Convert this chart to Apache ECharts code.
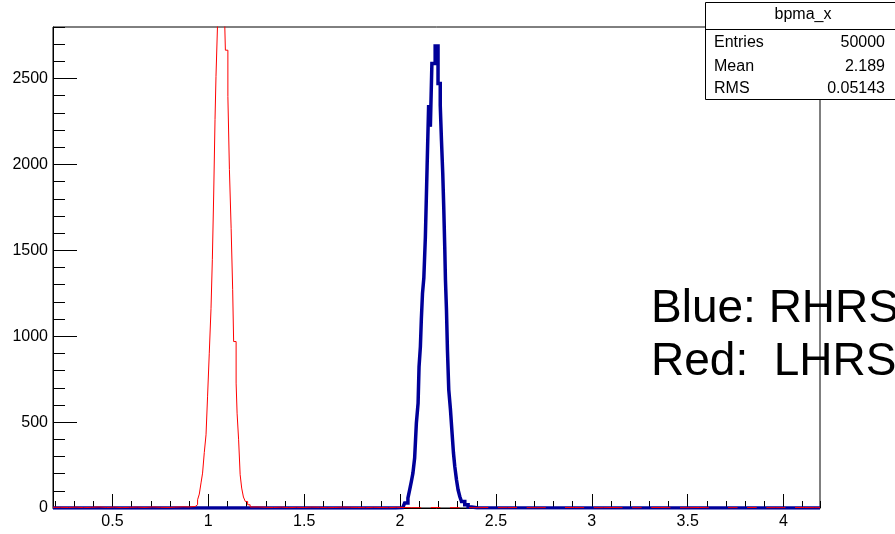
<!DOCTYPE html>
<html>
<head>
<meta charset="utf-8">
<script src="https://cdn.jsdelivr.net/npm/echarts@6/dist/echarts.min.js"></script>
<style>html,body{margin:0;padding:0;background:#fff}#c{width:895px;height:534px}</style>
</head>
<body>
<div id="c"></div>
<script>
// ---- axis ranges ----
const xMin = 0.19, xMax = 4.19;
const yMin = 0, yMax = 2800;

// ---- blue histogram (RHRS, bpma_x): bin low edges (last = upper edge) and counts ----
const blueEdges = [0.19, 1.977, 2.014, 2.024, 2.041, 2.050, 2.059, 2.067, 2.076, 2.085, 2.094, 2.099,
  2.106, 2.111, 2.117, 2.124, 2.132, 2.141, 2.149, 2.158, 2.166, 2.183, 2.198, 2.2095, 2.216, 2.2226,
  2.2278, 2.233, 2.2367, 2.242, 2.2471, 2.254, 2.2628, 2.2712, 2.2785, 2.2853, 2.2942, 2.3025, 2.3114,
  2.3203, 2.3375, 2.3548, 2.374, 2.40, 4.19];
const blueCounts = [0, 2, 9, 29, 58, 106, 155, 203, 291, 494, 610,
  823, 940, 1100, 1250, 1340, 1579, 1986, 2345, 2219, 2587, 2690, 2471, 2345, 2138,
  1948, 1750, 1520, 1327, 1153, 920, 688, 572, 436, 320, 242, 165, 106,
  67, 38, 19, 6, 2, 0];

// ---- red histogram (LHRS): bin low edges (last = upper edge) and counts ----
const redEdges = [
  0.19, 0.23, 0.27, 0.31, 0.35, 0.39, 0.43, 0.47, 0.51, 0.55, 0.59, 0.63, 0.67, 0.71, 0.75, 0.79, 0.83, 0.87, 0.90,
  0.932, 0.944, 0.953, 0.962, 0.970, 0.979, 0.988, 0.996, 1.005, 1.014, 1.021, 1.028, 1.035, 1.040, 1.049, 1.056,
  1.063, 1.069, 1.076, 1.082, 1.089, 1.102, 1.110, 1.119, 1.127, 1.132, 1.145, 1.150, 1.158, 1.166, 1.174, 1.183,
  1.193, 1.205,
  1.218, 1.26, 1.30, 1.34, 1.38, 1.42, 1.46, 1.50, 1.54, 1.58, 1.62, 1.66, 1.70, 1.74, 1.78, 1.82, 1.86, 1.90, 1.94, 1.98, 2.02,
  2.06, 2.11, 2.16, 2.21, 2.26, 2.31, 2.36, 2.41, 2.46, 2.51, 2.56, 2.61, 2.66, 2.71, 2.76, 2.81, 2.86, 2.91, 2.96,
  3.01, 3.06, 3.11, 3.16, 3.21, 3.26, 3.31, 3.36, 3.41, 3.46, 3.51, 3.56, 3.61, 3.66, 3.71, 3.76, 3.81, 3.86, 3.91, 3.96,
  4.01, 4.06, 4.11, 4.16, 4.19];
const redCounts = [
  4, 3, 5, 2, 4, 6, 3, 5, 2, 4, 5, 3, 6, 4, 3, 5, 7, 6, 9,
  19, 48, 81, 146, 203, 323, 426, 647, 901, 1160, 1448, 1822, 2262, 2513, 2850, 3010,
  3120, 3160, 3100, 2980, 2665, 2395, 1971, 1628, 1273, 969, 727, 552, 397, 194, 116, 64,
  38, 19,
  6, 4, 3, 5, 2, 4, 3, 5, 4, 2, 3, 5, 4, 3, 2, 4, 3, 2, 4, 3, 2,
  2, 0, 3, 0, 2, 0, 2, 3, 0, 2, 3, 0, 2, 2, 0, 0, 3, 2, 0,
  2, 3, 2, 0, 2, 0, 3, 2, 0, 2, 3, 2, 0, 0, 2, 0, 3, 0, 2, 2,
  0, 3, 2, 2];

// ---- texts ----
const statsTitle = 'bpma_x';
const statsLabels = ['Entries', 'Mean', 'RMS'];
const statsValues = ['50000', '2.189', '0.05143'];
const noteLines = ['Blue: RHRS', 'Red:  LHRS'];

// Build a histogram outline (horizontal top of every bin, verticals between bins).
// Empty bins of the overlaid histogram sit on the frame and are not drawn (as in ROOT).
function histPoints(edges, counts, hideEmpty) {
  const pts = [];
  for (let i = 0; i < counts.length; i++) {
    const c = counts[i];
    if (hideEmpty && c === 0) {
      if (pts.length && pts[pts.length - 1][1] !== '-') pts.push(['-', '-']);
      continue;
    }
    pts.push([edges[i], c], [edges[i + 1], c]);
  }
  return pts;
}

const FONT = '"Liberation Sans", Arial, Helvetica, sans-serif';
const chart = echarts.init(document.getElementById('c'), null, {renderer: 'canvas'});

const labelStyle = {color: '#000', fontSize: 16, fontFamily: FONT, formatter: function (v) { return String(v); }};

const option = {
  animation: false,
  backgroundColor: '#fff',
  grid: {left: 53, right: 75, top: 27, bottom: 26, show: true, borderColor: '#000', borderWidth: 1, backgroundColor: 'transparent'},
  xAxis: [
    {
      type: 'value', min: xMin, max: xMax, splitNumber: 8, minInterval: 0.5, maxInterval: 0.5, position: 'bottom',
      axisLine: {show: true, onZero: false, lineStyle: {color: '#000', width: 1}},
      axisTick: {show: true, inside: true, length: 14, lineStyle: {color: '#000', width: 1}},
      axisLabel: Object.assign({margin: 6, showMinLabel: false, showMaxLabel: false}, labelStyle),
      splitLine: {show: false}
    },
    {
      type: 'value', min: xMin, max: xMax, splitNumber: 40, minInterval: 0.1, maxInterval: 0.1, position: 'bottom',
      axisLine: {show: false, onZero: false},
      axisTick: {show: true, inside: true, length: 7, lineStyle: {color: '#000', width: 1}},
      axisLabel: {show: false},
      splitLine: {show: false}
    }
  ],
  yAxis: [
    {
      type: 'value', min: yMin, max: yMax, interval: 500, position: 'left',
      axisLine: {show: true, onZero: false, lineStyle: {color: '#000', width: 1}},
      axisTick: {show: true, inside: true, length: 24, lineStyle: {color: '#000', width: 1}},
      axisLabel: Object.assign({margin: 5, showMaxLabel: false}, labelStyle),
      splitLine: {show: false}
    },
    {
      type: 'value', min: yMin, max: yMax, interval: 100, position: 'left',
      axisLine: {show: false, onZero: false},
      axisTick: {show: true, inside: true, length: 12, lineStyle: {color: '#000', width: 1}},
      axisLabel: {show: false},
      splitLine: {show: false}
    }
  ],
  series: [
    {
      name: 'RHRS', type: 'line', xAxisIndex: 0, yAxisIndex: 0,
      data: histPoints(blueEdges, blueCounts, false),
      showSymbol: false, symbol: 'none', connectNulls: false, z: 3,
      lineStyle: {color: '#000099', width: 3.5, join: 'miter'}
    },
    {
      name: 'LHRS', type: 'line', xAxisIndex: 0, yAxisIndex: 0,
      data: histPoints(redEdges, redCounts, true),
      showSymbol: false, symbol: 'none', connectNulls: false, z: 4,
      lineStyle: {color: '#ff0000', width: 1}
    }
  ],
  graphic: [
    {type: 'text', z: -5, x: 651, y: 309, style: {text: noteLines[0], fill: '#000', font: '46px ' + FONT, align: 'left', verticalAlign: 'middle'}},
    {type: 'text', z: -5, x: 651, y: 362, style: {text: noteLines[1], fill: '#000', font: '46px ' + FONT, align: 'left', verticalAlign: 'middle'}},
    {type: 'rect', z: 100, shape: {x: 705.5, y: 2.5, width: 200, height: 97}, style: {fill: '#fff', stroke: '#000', lineWidth: 1}},
    {type: 'line', z: 101, shape: {x1: 705.5, y1: 29.5, x2: 900, y2: 29.5}, style: {stroke: '#000', lineWidth: 1}},
    {type: 'text', z: 102, x: 803, y: 15, style: {text: statsTitle, fill: '#000', font: '16px ' + FONT, align: 'center', verticalAlign: 'middle'}},
    {type: 'text', z: 102, x: 714, y: 43, style: {text: statsLabels[0], fill: '#000', font: '16px ' + FONT, align: 'left', verticalAlign: 'middle'}},
    {type: 'text', z: 102, x: 714, y: 66.5, style: {text: statsLabels[1], fill: '#000', font: '16px ' + FONT, align: 'left', verticalAlign: 'middle'}},
    {type: 'text', z: 102, x: 714, y: 88.5, style: {text: statsLabels[2], fill: '#000', font: '16px ' + FONT, align: 'left', verticalAlign: 'middle'}},
    {type: 'text', z: 102, x: 885, y: 43, style: {text: statsValues[0], fill: '#000', font: '16px ' + FONT, align: 'right', verticalAlign: 'middle'}},
    {type: 'text', z: 102, x: 885, y: 66.5, style: {text: statsValues[1], fill: '#000', font: '16px ' + FONT, align: 'right', verticalAlign: 'middle'}},
    {type: 'text', z: 102, x: 885, y: 88.5, style: {text: statsValues[2], fill: '#000', font: '16px ' + FONT, align: 'right', verticalAlign: 'middle'}}
  ]
};
chart.setOption(option);
</script>
</body>
</html>
